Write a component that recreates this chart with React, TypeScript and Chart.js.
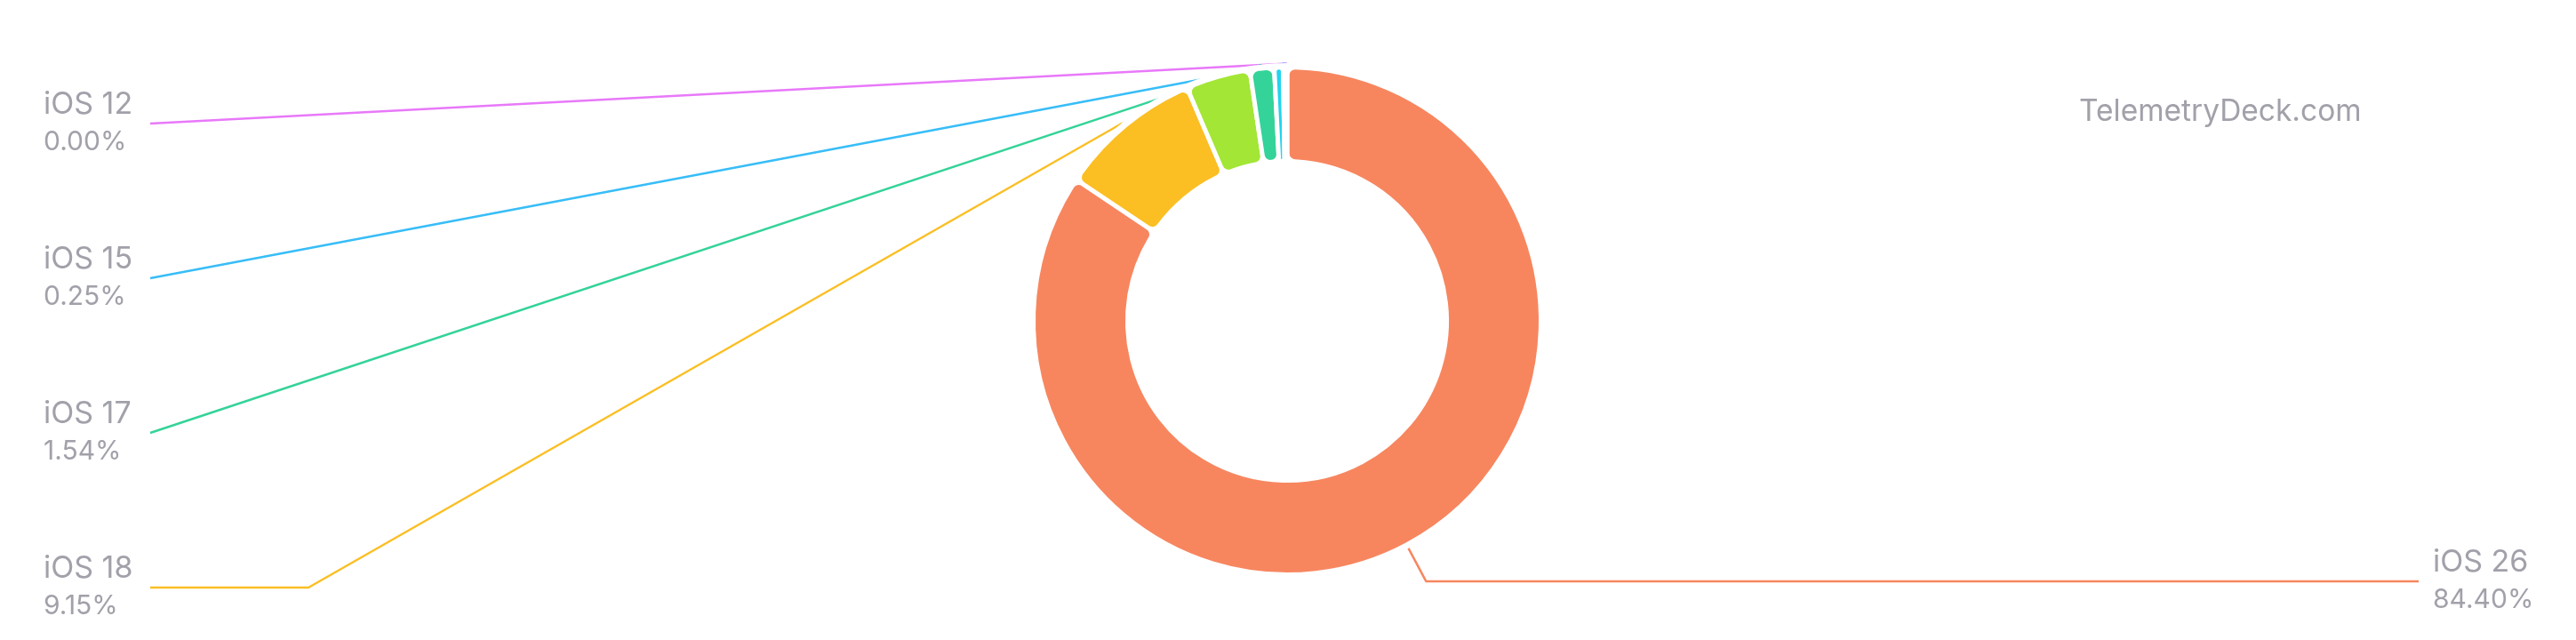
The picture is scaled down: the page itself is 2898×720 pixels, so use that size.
import { useEffect, useRef } from "react"
import { Chart, registerables } from "chart.js"

Chart.register(...registerables)

// iOS version share, in the order the slices go round (clockwise from 12 o'clock)
const versions = ["iOS 26", "iOS 18", "iOS 16", "iOS 17", "iOS 14", "iOS 15", "iOS 12"]
const shares = [84.4, 9.15, 4.1, 1.54, 0.56, 0.25, 0.0]
const sliceColors = ["#F7865F", "#FBBF24", "#A3E635", "#34D399", "#22D3EE", "#38BDF8", "#E879F9"]
// slices whose outside label is drawn (the others are hidden in the original)
const labelShown = [true, true, false, true, false, true, true]

const watermark = "TelemetryDeck.com"

const TEXT_COLOR = "#a1a1aa"
const FONT = "Inter, 'Noto Sans', sans-serif"

const BORDER = 5
const LEFT_TEXT_X = 49
const LEFT_LINE_END = 169
const LEFT_TOP = 139
const LEFT_BOTTOM = 661
const RIGHT_GAP = 16
const RIGHT_MARGIN = 177

// outside labels with leader lines, plus the watermark
const outsideLabels = {
  id: "outsideLabels",
  afterDatasetsDraw(chart: Chart) {
    const ctx = chart.ctx
    const meta = chart.getDatasetMeta(0)
    const arcs = meta.data as any[]
    if (!arcs.length) return

    const first = arcs[0].getProps(["x", "y", "outerRadius"], true)
    const cx = first.x
    const cy = first.y
    const outer = first.outerRadius - BORDER / 2
    const clipR = outer + 7
    const anchorR = outer + 6.5
    const elbowR = outer + 49

    type Item = { i: number; theta: number; ax: number; ay: number }
    const left: Item[] = []
    const right: Item[] = []
    arcs.forEach((arc, i) => {
      if (!labelShown[i]) return
      const p = arc.getProps(["startAngle", "endAngle"], true)
      const mid = (p.startAngle + p.endAngle) / 2
      const theta = mid + Math.PI / 2
      const item = { i, theta, ax: cx + Math.cos(mid) * anchorR, ay: cy + Math.sin(mid) * anchorR }
      if (theta > Math.PI) left.push(item)
      else right.push(item)
    })
    left.sort((a, b) => b.theta - a.theta)

    const drawText = (i: number, x: number, y: number) => {
      ctx.fillStyle = TEXT_COLOR
      ctx.textAlign = "left"
      ctx.textBaseline = "alphabetic"
      ctx.font = `34px ${FONT}`
      ctx.fillText(versions[i], x, y - 11)
      ctx.font = `30px ${FONT}`
      ctx.fillText(shares[i].toFixed(2) + "%", x, y + 30)
    }

    ctx.save()
    ctx.beginPath()
    ctx.rect(0, 0, chart.width, chart.height)
    ctx.arc(cx, cy, clipR, 0, Math.PI * 2)
    ctx.clip("evenodd")
    ctx.lineWidth = 2.5
    ctx.lineJoin = "round"

    const step = left.length > 1 ? (LEFT_BOTTOM - LEFT_TOP) / (left.length - 1) : 0
    left.forEach((it, k) => {
      const y = LEFT_TOP + k * step
      const elbowX = LEFT_LINE_END + Math.max(0, Math.abs(y - cy) - 250) * 3.56
      ctx.strokeStyle = sliceColors[it.i]
      ctx.beginPath()
      ctx.moveTo(LEFT_LINE_END, y)
      ctx.lineTo(elbowX, y)
      ctx.lineTo(it.ax, it.ay)
      ctx.stroke()
    })

    const rightEnd = chart.width - RIGHT_MARGIN
    right.forEach((it) => {
      const dx = (it.ax - cx) / anchorR
      const dy = (it.ay - cy) / anchorR
      const ex = cx + dx * elbowR
      const ey = cy + dy * elbowR
      ctx.strokeStyle = sliceColors[it.i]
      ctx.beginPath()
      ctx.moveTo(it.ax, it.ay)
      ctx.lineTo(ex, ey)
      ctx.lineTo(rightEnd, ey)
      ctx.stroke()
    })
    ctx.restore()

    ctx.save()
    left.forEach((it, k) => drawText(it.i, LEFT_TEXT_X, LEFT_TOP + k * step))
    right.forEach((it) => {
      const dy = (it.ay - cy) / anchorR
      drawText(it.i, rightEnd + RIGHT_GAP, cy + dy * elbowR)
    })

    ctx.fillStyle = TEXT_COLOR
    ctx.font = `33.5px ${FONT}`
    ctx.textAlign = "left"
    ctx.textBaseline = "alphabetic"
    ctx.fillText(watermark, chart.width - 559, 136)
    ctx.restore()
  },
}

function VersionDonut() {
  const chartRef = useRef<HTMLCanvasElement>(null)
  const chartInstance = useRef<Chart | null>(null)

  useEffect(() => {
    if (!chartRef.current) return
    if (chartInstance.current) chartInstance.current.destroy()

    const ctx = chartRef.current.getContext("2d")
    if (!ctx) return

    chartInstance.current = new Chart(ctx, {
      type: "doughnut",
      data: {
        labels: versions,
        datasets: [
          {
            data: shares,
            backgroundColor: sliceColors,
            borderColor: "#ffffff",
            borderWidth: BORDER,
            borderRadius: 9,
          },
        ],
      },
      options: {
        animation: false,
        responsive: true,
        maintainAspectRatio: false,
        radius: 283 + BORDER / 2,
        cutout: "62.9%",
        layout: { padding: { top: 2, right: 2, left: 0, bottom: 0 } },
        plugins: {
          legend: { display: false },
          tooltip: { enabled: false },
        },
      } as any,
      plugins: [outsideLabels],
    })

    return () => {
      if (chartInstance.current) {
        chartInstance.current.destroy()
        chartInstance.current = null
      }
    }
  }, [])

  return <canvas ref={chartRef} />
}

export default function App() {
  useEffect(() => {
    document.body.style.margin = "0"
  }, [])

  return (
    <div style={{ position: "relative", width: 2898, height: 720, background: "#ffffff" }}>
      <VersionDonut />
    </div>
  )
}
